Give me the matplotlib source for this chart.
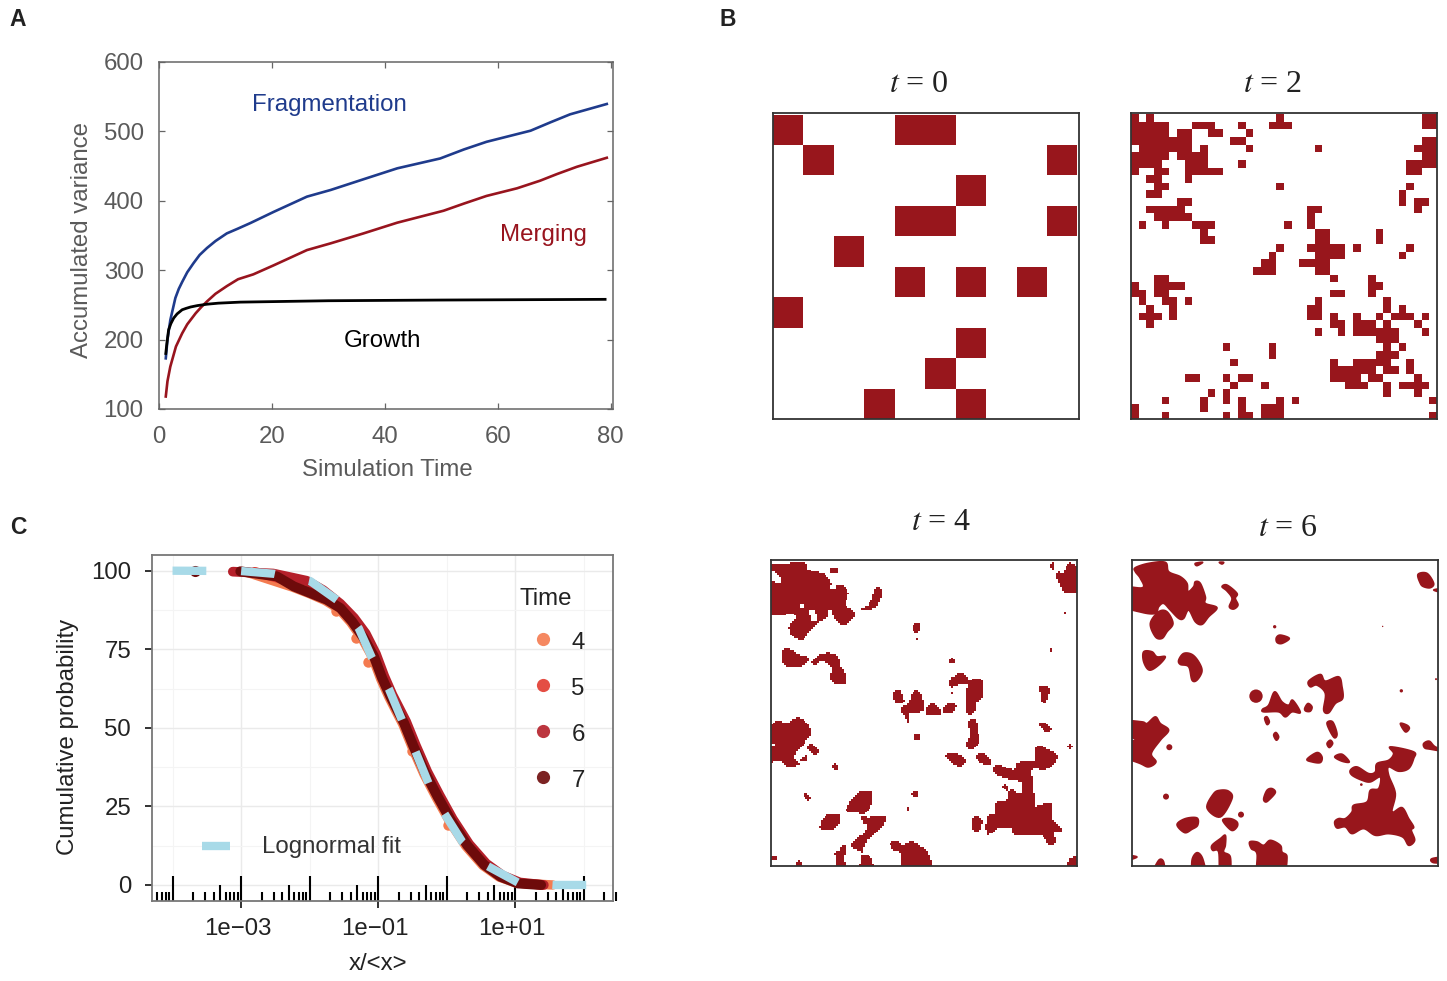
import numpy as np
import matplotlib
matplotlib.use("Agg")
import matplotlib.pyplot as plt
from matplotlib.colors import ListedColormap
from matplotlib.lines import Line2D
from matplotlib.patches import Polygon, Circle
from matplotlib.path import Path
from matplotlib.transforms import Affine2D, ScaledTranslation

plt.rcParams['font.family'] = ['Liberation Sans', 'DejaVu Sans']
plt.rcParams['mathtext.fontset'] = 'stix'
plt.rcParams['lines.scale_dashes'] = False

# ---------- Panel A data ----------
time_frag = [1.2, 1.5, 2, 2.9, 3.5, 4.1, 5, 6.1, 7.2, 8.5, 10, 12, 14, 16.2, 20.3, 26.2, 30.4, 36.2, 42.2, 49.8, 54, 58, 65.8, 69.3, 72.8, 79.3]
var_frag = [173, 200, 228, 260, 273, 283, 297, 310, 322, 332, 342, 353, 360, 368, 384, 406, 415.6, 431, 446.8, 461, 474, 485, 501, 513, 524.6, 539.5]
time_merge = [1.2, 1.5, 2, 3, 4.1, 5, 6.5, 7.5, 8.5, 10, 12, 14, 16.7, 20.3, 26.2, 30.4, 36.2, 42.2, 50.4, 54, 58, 63.4, 67.5, 70.5, 74, 79.3]
var_merge = [118, 140, 161, 190, 209, 222, 238, 247, 255, 266, 277, 287, 294, 307, 329, 338.7, 353, 368.5, 385.7, 396, 407, 418, 429, 438.6, 449, 462]
time_grow = [1.2, 1.4, 1.7, 2.1, 2.6, 3.2, 4.1, 4.8, 5.6, 6.8, 8.5, 10.5, 14.4, 30, 50, 79]
var_grow = [180, 195, 214, 223, 231, 237, 243, 245, 247, 249, 251, 252.5, 254, 256, 257, 258]

# ---------- Panel B data: occupied cells as (row, [col start, col end, ...]) ----------
grid_t0 = {0: [0, 0, 4, 5], 1: [1, 1, 9, 9], 2: [6, 6], 3: [4, 5, 9, 9], 4: [2, 2],
           5: [4, 4, 6, 6, 8, 8], 6: [0, 0], 7: [6, 6], 8: [5, 5], 9: [3, 3, 6, 6]}
grid_t2 = {
    0: [0, 0, 2, 2, 19, 19, 38, 39],
    1: [0, 4, 8, 10, 14, 14, 18, 20, 38, 39],
    2: [0, 4, 6, 7, 10, 11, 15, 15],
    3: [0, 7, 13, 14, 38, 39],
    4: [1, 7, 9, 9, 15, 15, 24, 24, 37, 39],
    5: [0, 4, 6, 9, 38, 39],
    6: [0, 3, 7, 9, 14, 14, 36, 39],
    7: [0, 0, 3, 4, 7, 11, 36, 37],
    8: [2, 3, 7, 7],
    9: [3, 4, 19, 19, 36, 36],
    10: [2, 3, 35, 35],
    11: [6, 7, 35, 35, 37, 38],
    12: [2, 6, 23, 24, 37, 37],
    13: [3, 7, 23, 23],
    14: [1, 1, 4, 4, 8, 10, 20, 20, 23, 23],
    15: [9, 9, 24, 25, 32, 32],
    16: [9, 10, 24, 25, 32, 32],
    17: [19, 19, 23, 27, 29, 29, 36, 36],
    18: [18, 18, 24, 27, 35, 35],
    19: [17, 18, 22, 25],
    20: [16, 18, 24, 25],
    21: [3, 4, 26, 26, 31, 31],
    22: [0, 0, 3, 6, 31, 32],
    23: [0, 1, 3, 4, 26, 27, 31, 31],
    24: [1, 1, 4, 5, 7, 7, 24, 24, 33, 33],
    25: [2, 2, 5, 5, 23, 24, 33, 33, 35, 35],
    26: [1, 3, 5, 5, 23, 24, 26, 26, 29, 29, 32, 32, 34, 36, 38, 38],
    27: [2, 2, 26, 27, 29, 31, 33, 33, 37, 37],
    28: [24, 24, 27, 27, 29, 34, 38, 38],
    29: [32, 34],
    30: [12, 12, 18, 18, 33, 33, 35, 35],
    31: [18, 18, 32, 34],
    32: [13, 13, 26, 26, 29, 33, 36, 36],
    33: [26, 31, 33, 34, 36, 36],
    34: [7, 8, 12, 12, 14, 15, 26, 29, 31, 32, 37, 37],
    35: [13, 13, 17, 17, 28, 30, 33, 33, 35, 38],
    36: [10, 10, 12, 12, 33, 33, 37, 37],
    37: [4, 4, 9, 9, 12, 12, 14, 14, 19, 19, 21, 21, 39, 39],
    38: [0, 0, 9, 9, 14, 14, 17, 19],
    39: [0, 0, 4, 4, 12, 12, 14, 15, 17, 19, 39, 39],
}

blobs_t4 = [
    [(22,25),(60,30),(85,22),(118,25),(130,45),(165,55),(190,70),(200,88),(235,95),(248,115),(240,150),(262,165),(265,185),(240,208),(222,205),(205,180),(205,165),(190,165),(185,185),(160,200),(135,225),(115,250),(95,250),(80,235),(75,215),(90,195),(95,180),(75,175),(22,175),(22,80),(40,85),(48,70),(30,50)],
    [(200,40),(215,40),(215,52),(200,55)],
    [(290,162),(310,150),(325,125),(330,105),(342,97),(348,120),(335,150),(315,162)],
    [(875,55),(895,55),(915,25),(930,70),(930,108),(905,110),(885,90)],
    [(858,25),(865,25),(865,38),(858,38)],
    [(445,215),(452,205),(462,207),(460,225),(448,228)],
    [(58,285),(80,285),(100,300),(130,310),(115,330),(60,330)],
    [(142,320),(165,300),(195,295),(215,305),(225,335),(238,355),(238,385),(210,385),(195,365),(205,345),(190,325),(165,318),(150,330)],
    [(553,320),(560,308),(565,322)],
    [(553,378),(575,358),(595,358),(610,380),(590,385),(570,390),(558,395)],
    [(615,380),(648,375),(650,425),(630,440),(625,470),(605,470),(605,420)],
    [(385,420),(390,410),(405,410),(415,440),(395,442)],
    [(410,460),(430,445),(445,410),(460,410),(472,435),(472,465),(430,475),(428,498),(420,480),(412,475)],
    [(485,462),(505,445),(525,465),(525,477),(487,477)],
    [(537,460),(550,445),(570,450),(560,470),(537,472)],
    [(612,500),(630,497),(638,540),(635,570),(615,580),(605,565),(615,540)],
    [(822,398),(850,398),(842,440),(830,440),(828,415)],
    [(822,508),(832,503),(855,518),(850,528),(835,525)],
    [(450,540),(462,540),(462,552),(450,552)],
    [(908,575),(918,568),(918,580)],
    [(22,540),(35,500),(65,505),(95,490),(115,495),(135,520),(135,540),(110,570),(85,605),(100,625),(70,632),(45,615),(22,620),(22,575),(35,570),(22,550)],
    [(130,575),(140,568),(160,585),(150,598),(135,588)],
    [(108,610),(125,603),(125,612),(110,615)],
    [(205,630),(212,625),(216,640),(208,640)],
    [(542,600),(570,597),(600,612),(590,630),(565,625)],
    [(634,600),(655,597),(675,615),(670,625),(640,617)],
    [(685,635),(700,630),(745,645),(760,622),(810,618),(810,585),(825,575),(860,590),(873,605),(860,630),(835,642),(800,640),(800,680),(808,745),(812,755),(855,745),(860,790),(890,825),(865,830),(868,860),(850,865),(830,840),(780,840),(745,835),(740,815),(700,815),(668,835),(668,785),(690,775),(695,742),(725,740),(735,705),(755,715),(772,710),(768,680),(740,672),(700,660),(687,650)],
    [(715,690),(722,690),(730,705),(720,700)],
    [(127,718),(135,730),(125,732),(118,720)],
    [(440,715),(455,712),(460,722),(445,725)],
    [(245,765),(265,730),(285,712),(318,712),(318,745),(300,772),(265,768)],
    [(165,815),(175,790),(195,780),(222,782),(222,800),(205,818),(170,820)],
    [(292,785),(310,790),(330,785),(358,785),(355,805),(325,840),(300,860),(290,900),(315,905),(325,930),(285,930),(290,895),(265,875),(268,860),(300,830),(305,805),(295,800)],
    [(622,795),(635,785),(650,800),(640,825),(625,825)],
    [(378,862),(395,860),(415,870),(445,860),(490,900),(490,930),(412,930),(410,895),(385,880)],
    [(210,895),(225,885),(232,870),(240,875),(235,910),(240,930),(208,930),(218,910)],
    [(85,930),(100,917),(118,930)],
    [(22,900),(38,908),(22,920)],
    [(915,912),(930,912),(930,930),(915,930)],
]
holes_t4 = [
    [(132,165),(150,165),(160,195),(140,197)],
    [(106,148),(116,148),(116,158),(106,158)],
    [(198,90),(210,90),(210,102),(198,102)],
]
specks_t4 = [(897,172,3), (858,285,4), (458,252,3), (430,760,3), (561,412,3)]

blobs_t6 = [
    [(30,38),(70,25),(120,22),(130,50),(165,65),(185,85),(188,110),(205,95),(210,80),(225,85),(240,125),(240,145),(275,158),(250,185),(230,208),(210,200),(190,165),(175,190),(160,190),(135,165),(115,145),(100,155),(90,175),(50,172),(22,150),(22,98),(52,98),(45,70),(30,50)],
    [(290,95),(305,90),(335,115),(330,130),(338,150),(325,162),(312,155),(320,130),(305,108)],
    [(210,25),(232,22),(215,32)],
    [(282,22),(295,22),(290,27)],
    [(878,58),(905,55),(925,85),(915,98),(895,95),(885,85)],
    [(925,105),(935,100),(935,115)],
    [(75,205),(100,170),(125,170),(143,205),(125,230),(110,250),(90,245)],
    [(453,248),(465,240),(492,250),(470,265),(455,262)],
    [(55,290),(80,290),(95,305),(120,305),(100,330),(72,345),(55,320)],
    [(160,315),(175,295),(200,298),(220,320),(230,348),(215,375),(200,375),(190,335),(165,328)],
    [(550,378),(585,358),(600,378),(640,365),(650,395),(652,430),(630,445),(610,473),(595,465),(600,415),(575,390),(555,395)],
    [(412,462),(430,450),(448,410),(470,440),(490,450),(502,435),(525,472),(500,470),(480,485),(460,470),(415,470)],
    [(538,460),(548,445),(560,455),(555,468),(542,468)],
    [(418,490),(425,485),(432,500),(425,508)],
    [(445,540),(452,532),(460,545),(453,555)],
    [(605,503),(622,500),(635,535),(628,548),(615,530)],
    [(605,565),(615,555),(622,565),(612,577)],
    [(825,505),(845,510),(852,520),(840,530)],
    [(895,565),(912,558),(930,575),(935,590),(915,582),(898,578)],
    [(22,498),(50,500),(65,505),(90,485),(105,505),(130,525),(105,555),(78,595),(92,620),(70,635),(45,625),(22,600),(22,560),(32,555),(25,530)],
    [(545,612),(575,592),(590,605),(585,622),(560,620)],
    [(628,605),(650,597),(672,620),(650,618)],
    [(675,645),(695,635),(730,655),(750,650),(755,625),(790,615),(805,595),(795,575),(865,590),(865,610),(850,640),(820,648),(790,635),(790,660),(810,715),(800,770),(830,757),(850,790),(865,815),(858,825),(868,855),(850,870),(832,845),(790,835),(750,840),(715,820),(680,835),(660,815),(635,818),(628,800),(640,790),(660,790),(680,770),(685,750),(725,740),(735,705),(760,700),(765,665),(735,680),(710,675),(680,660)],
    [(415,730),(425,705),(440,700),(450,712),(430,735),(420,740)],
    [(245,758),(265,715),(285,705),(310,708),(320,730),(285,785)],
    [(155,808),(180,790),(215,788),(217,810),(200,822),(178,832)],
    [(292,795),(315,790),(335,800),(335,815),(318,825)],
    [(260,870),(285,850),(300,840),(300,870),(295,890),(315,905),(312,930),(285,930),(280,890),(262,885)],
    [(373,860),(395,860),(415,870),(435,855),(465,870),(470,890),(485,905),(470,930),(400,930),(395,895),(378,880)],
    [(200,915),(215,892),(232,910),(240,930),(205,930)],
    [(80,930),(100,915),(115,920),(115,930)],
    [(20,900),(35,905),(22,918)],
    [(920,910),(932,905),(935,920),(925,922)],
]
dots_t6 = [(448,215,5), (772,214,2), (392,423,20), (828,407,5), (932,372,3), (132,576,9),
           (708,688,4), (122,724,9), (347,778,9)]

# ---------- Panel C data (log10 of x/<x>, cumulative %) ----------
logx_t4 = [-2.9, -2.25, -2.0, -1.77, -1.57, -1.40, -1.23, -1.08, -0.96, -0.84, -0.74, -0.64, -0.50, -0.33, -0.15, 0.04, 0.28, 0.53, 0.77, 1.02, 1.55]
cum_t4 = [99.4, 94.8, 92.7, 90.5, 87.8, 83.6, 78.3, 72.4, 65.5, 59.7, 55.4, 51.2, 43.7, 35.3, 27.8, 20.4, 12.4, 6.2, 2.5, 0.6, 0]
logx_t4_points = [-1.62, -1.32, -1.15, -0.50, 0.02]
cum_t4_points = [87.3, 78.5, 71.0, 42.5, 19.0]
logx_t5 = [-2.8, -2.2, -2.0, -1.75, -1.53, -1.36, -1.2, -1.05, -0.93, -0.8, -0.7, -0.6, -0.46, -0.3, -0.12, 0.07, 0.31, 0.56, 0.8, 1.05, 1.4]
cum_t5 = [99.7, 96, 94, 91, 88.3, 84.2, 79, 73, 66, 60.3, 56, 51.8, 44.3, 36, 28.4, 21, 13, 6.7, 2.9, 0.6, 0]
logx_t6 = [-3.12, -2.53, -2.25, -2.04, -1.80, -1.55, -1.35, -1.18, -1.03, -0.91, -0.79, -0.59, -0.45, -0.28, -0.1, 0.09, 0.33, 0.58, 0.82, 1.07, 1.42]
cum_t6 = [99.7, 99.1, 97.8, 96.8, 93.8, 89.5, 85, 80, 73.5, 66.5, 60.5, 52, 44.5, 36, 28.5, 21, 13, 6.8, 3, 0.8, 0]
logx_t7 = [-3.01, -2.75, -2.48, -2.23, -1.99, -1.75, -1.55, -1.38, -1.21, -1.06, -0.94, -0.82, -0.72, -0.62, -0.48, -0.31, -0.13, 0.06, 0.30, 0.55, 0.79, 1.04, 1.38]
cum_t7 = [99.8, 99.0, 98.2, 95.0, 92.9, 90.8, 88.1, 83.9, 78.6, 72.7, 65.8, 60.0, 55.7, 51.5, 44.0, 35.6, 28.1, 20.7, 12.7, 6.4, 2.6, 0.5, 0]
logx_outlier = [-3.67]
cum_outlier = [100]
logx_fit = [-4.0, -3.0, -2.51, -1.99, -1.60, -1.28, -1.09, -0.84, -0.65, -0.45, -0.26, -0.03, 0.23, 0.60, 1.04, 1.56, 2.05]
cum_fit = [100, 99.9, 99.0, 96.7, 90.7, 81.6, 72.3, 62.3, 52.4, 42.3, 32.2, 22.7, 13.7, 6.0, 0.8, 0, 0]
time_levels = ['4', '5', '6', '7']
time_colors = ['#F47B50', '#E23B30', '#B5202A', '#6E0B0B']
c_yticks = [0, 25, 50, 75, 100]
c_xticks = [1e-3, 1e-1, 1e1]
c_xticklabels = ['1e\u221203', '1e\u221201', '1e+01']

W, H = 1447, 981
FS = 17.3
fig = plt.figure(figsize=(W / 100, H / 100), dpi=100)
PX = Affine2D().scale(1, -1).translate(0, H)


def add_ax(left, top, right, bottom):
    return fig.add_axes([left / W, 1 - bottom / H, (right - left) / W, (bottom - top) / H])


def label(s, x, y, **kw):
    kw.setdefault('ha', 'center')
    kw.setdefault('va', 'center')
    return fig.text(x, y, s, transform=PX, **kw)


for s, x, y in [('A', 18, 20), ('B', 728, 20), ('C', 18, 528)]:
    label(s, x, y, fontsize=16.5, fontweight='bold', color='#222222')

# ---------- Panel A ----------
GRAY = '#5A5A5A'
axA = add_ax(159, 62, 613, 409)
axA.plot(time_frag, var_frag, color='#1F3B8C', lw=1.9)
axA.plot(time_merge, var_merge, color='#98141E', lw=1.9)
axA.plot(time_grow, var_grow, color='black', lw=2.0)
axA.set_xlim(0, 80.4)
axA.set_ylim(100, 600)
axA.set_xticks([0, 20, 40, 60, 80])
axA.set_yticks([100, 200, 300, 400, 500, 600])
axA.tick_params(direction='in', length=4.5, width=0.9, color='#666666', labelcolor=GRAY,
                labelsize=FS, top=True, right=True, pad=11)
axA.tick_params(axis='x', pad=12)
for sp in axA.spines.values():
    sp.set_color('#666666')
    sp.set_linewidth(1.1)
axA.set_xlabel('Simulation Time', fontsize=FS, color=GRAY)
axA.xaxis.set_label_coords(387, 469.5, transform=PX)
axA.xaxis.label.set_va('center')
axA.set_ylabel('Accumulated variance', fontsize=FS, color=GRAY)
axA.yaxis.set_label_coords(82, 240, transform=PX)
axA.yaxis.label.set_va('center')
label('Fragmentation', 329, 105, fontsize=FS, color='#1F3B8C')
label('Merging', 543, 235, fontsize=FS, color='#98141E')
label('Growth', 382, 341, fontsize=FS, color='black')

# ---------- Panel B ----------
MAP_RED = '#98161C'
cmap = ListedColormap(['white', MAP_RED])


def style_map(ax, title, tx, ty):
    ax.set_xticks([])
    ax.set_yticks([])
    for sp in ax.spines.values():
        sp.set_color('#333333')
        sp.set_linewidth(1.3)
        sp.set_zorder(5)
    ax.set_title(title, fontsize=23, y=1.0, color='#222222', family='Liberation Serif')
    ax.title.set_transform(PX)
    ax.title.set_position((tx, ty))
    ax.title.set_va('center')


def cells(runs, n):
    g = np.zeros((n, n))
    for row, spans in runs.items():
        for a, b in zip(spans[::2], spans[1::2]):
            g[row, a:b + 1] = 1
    return g


def smooth_closed(pts, sub=8):
    p = np.asarray(pts, float)
    t = (np.arange(sub) / sub)[:, None]
    out = []
    for i in range(len(p)):
        p0, p1, p2, p3 = p[i - 1], p[i], p[(i + 1) % len(p)], p[(i + 2) % len(p)]
        out.append(0.5 * (2 * p1 + (p2 - p0) * t + (2 * p0 - 5 * p1 + 4 * p2 - p3) * t ** 2
                          + (3 * p1 - p0 - 3 * p2 + p3) * t ** 3))
    return np.vstack(out)


def extend(pts, lo, hi, bottom, m=6):
    p = np.asarray(pts, float)
    p[:, 0] = np.where(p[:, 0] <= lo + m, lo - 30, p[:, 0])
    p[:, 0] = np.where(p[:, 0] >= hi - m, hi + 30, p[:, 0])
    p[:, 1] = np.where(p[:, 1] >= bottom - m, bottom + 30, p[:, 1])
    return p


ax = add_ax(773, 113, 1079, 419)
ax.pcolormesh(np.arange(11), np.arange(11), cells(grid_t0, 10), cmap=cmap, vmin=0, vmax=1)
ax.set_xlim(0, 10.05)
ax.set_ylim(10, -0.05)
style_map(ax, '$t$ = 0', 919, 84)

ax = add_ax(1131, 113, 1437, 419)
ax.pcolormesh(np.arange(41), np.arange(41), cells(grid_t2, 40), cmap=cmap, vmin=0, vmax=1)
ax.set_xlim(0, 40)
ax.set_ylim(39.9, -0.13)
style_map(ax, '$t$ = 2', 1273, 84)

# t = 4: outlines filled on a 160 x 160 lattice to keep the blocky edge
n4 = 160
step = (935 - 18) / n4
xs4 = 18 + (np.arange(n4) + 0.5) * step
ys4 = 15 + (np.arange(n4) + 0.5) * (932 - 15) / n4
XX, YY = np.meshgrid(xs4, ys4)
pts4 = np.column_stack([XX.ravel(), YY.ravel()])
mask = np.zeros(pts4.shape[0], bool)
for b in blobs_t4:
    path = Path(smooth_closed(extend(b, 18, 935, 932)))
    for dx, dy in [(0, 0), (0.4, 0), (-0.4, 0), (0, 0.4), (0, -0.4)]:
        mask |= path.contains_points(pts4 + np.array([dx, dy]) * step)
for b in holes_t4:
    mask &= ~Path(np.asarray(b, float)).contains_points(pts4)
for x, y, r in specks_t4:
    mask |= (np.abs(pts4[:, 0] - x) <= r) & (np.abs(pts4[:, 1] - y) <= r)
ax = add_ax(771, 560, 1077, 866)
ax.imshow(mask.reshape(n4, n4).astype(float), cmap=cmap, vmin=0, vmax=1, extent=(18, 935, 932, 15),
          interpolation='nearest', aspect='auto')
style_map(ax, '$t$ = 4', 941, 522)

# t = 6: smooth outlines
ax = add_ax(1132, 560, 1438, 866)
for b in blobs_t6:
    ax.add_patch(Polygon(smooth_closed(extend(b, 20, 938, 932)), closed=True, fc=MAP_RED, ec=MAP_RED,
                         lw=1.2, joinstyle='round'))
for x, y, r in dots_t6:
    ax.add_patch(Circle((x, y), r, fc=MAP_RED, ec='none'))
ax.set_xlim(20, 938)
ax.set_ylim(932, 15)
style_map(ax, '$t$ = 6', 1288, 528)

# ---------- Panel C ----------
axC = add_ax(152, 555, 613, 901)
decades_major = [1e-3, 1e-1, 1e1]
decades_minor = [1e-4, 1e-2, 1e0, 1e2]
axC.set_xscale('log')
axC.set_xlim(10 ** -4.3, 10 ** 2.43)
axC.set_ylim(-5.1, 105)
for v in decades_major:
    axC.axvline(v, color='#EAEAEA', lw=1.0, zorder=0)
for v in decades_minor:
    axC.axvline(v, color='#F4F4F4', lw=0.8, zorder=0)
for v in c_yticks:
    axC.axhline(v, color='#EAEAEA', lw=1.0, zorder=0)
for v in [12.5, 37.5, 62.5, 87.5]:
    axC.axhline(v, color='#F4F4F4', lw=0.8, zorder=0)

trans = axC.get_xaxis_transform()
for dec in range(-5, 3):
    for k in range(1, 10):
        v = k * 10.0 ** dec
        if v < 10 ** -4.3 or v > 3.1e2:
            continue
        h = 0.072 if k == 1 else (0.047 if k == 5 else 0.026)
        axC.plot([v, v], [0, h], transform=trans, color='black', lw=1.5, clip_on=False,
                 solid_capstyle='butt', zorder=1)

series = [(logx_t4, cum_t4), (logx_t5, cum_t5), (logx_t6, cum_t6), (logx_t7, cum_t7)]
axC.plot(10 ** np.array(logx_t4_points), cum_t4_points, 'o', color=time_colors[0], ms=7.5, mew=0, zorder=2)
for (lx, cy), col, w in zip(series, time_colors, [6.8, 6.8, 7.0, 7.2]):
    axC.plot(10 ** np.array(lx), cy, color=col, lw=w, solid_capstyle='round', solid_joinstyle='round', zorder=2)
axC.plot(10 ** np.array(logx_outlier), cum_outlier, 'o', color=time_colors[3], ms=8, mew=0, zorder=2)
axC.plot(10 ** np.array(logx_fit), cum_fit, color='#A8DAE8', lw=6, dashes=(24.3, 25.1), dash_capstyle='butt', zorder=3)

axC.set_xticks(c_xticks)
axC.set_xticklabels(c_xticklabels)
axC.minorticks_off()
axC.set_yticks(c_yticks)
axC.tick_params(axis='both', direction='out', length=5, width=1.3, color='#222222', labelcolor='#222222',
                labelsize=FS)
axC.tick_params(axis='x', pad=7.5)
axC.tick_params(axis='y', pad=10)
shift = ScaledTranslation(-3.5 / 100, 0, fig.dpi_scale_trans)
for t in axC.get_xticklabels():
    t.set_transform(t.get_transform() + shift)
for sp in axC.spines.values():
    sp.set_color('#777777')
    sp.set_linewidth(1.3)
axC.set_xlabel('x/<x>', fontsize=FS, color='#222222')
axC.xaxis.set_label_coords(378, 964, transform=PX)
axC.xaxis.label.set_va('center')
axC.set_ylabel('Cumulative probability', fontsize=FS, color='#222222')
axC.yaxis.set_label_coords(68, 737, transform=PX)
axC.yaxis.label.set_va('center')

label('Time', 546, 599, fontsize=FS, color='#222222')
for lev, col, y in zip(time_levels, time_colors, [639, 685, 731, 777]):
    fig.add_artist(Line2D([543], [y], marker='o', ms=9.5, mew=0, color=col, alpha=0.9, transform=PX))
    label(lev, 578, y + 4, fontsize=FS, color='#222222')
fig.add_artist(Line2D([202, 230], [846, 846], color='#A8DAE8', lw=6, solid_capstyle='butt', transform=PX))
label('Lognormal fit', 262, 847, ha='left', fontsize=FS, color='#333333')

fig.savefig('out.png', dpi=100, facecolor='white')
